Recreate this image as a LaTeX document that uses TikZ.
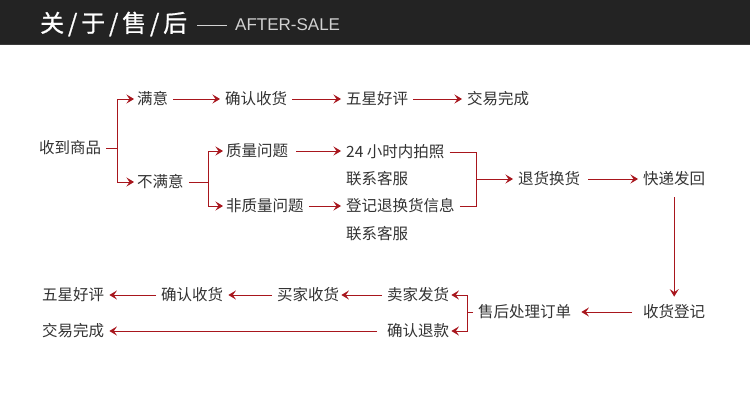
\documentclass[tikz,border=0pt]{standalone}
\usepackage{fontspec}
\setmainfont{Liberation Sans}
\newfontfamily\cjk{Noto Sans CJK SC}
\newfontfamily\cjktitle[FakeBold=0.8]{Noto Sans CJK SC}
\usetikzlibrary{arrows.meta}
\definecolor{txt}{HTML}{333333}
\definecolor{arr}{HTML}{A8161D}
\definecolor{hdr}{HTML}{232323}
\definecolor{hdrline}{HTML}{3A3A3A}
\definecolor{hdrtxt}{HTML}{D2D2D2}
\begin{document}
\begin{tikzpicture}[x=1pt,y=-1pt,
  lbl/.style={anchor=west,inner xsep=5pt,inner ysep=2pt,text=txt,font=\cjk\fontsize{15.5}{16}\selectfont},
  conn/.style={draw=arr,line width=1pt,-{Stealth[length=7.5pt,width=9pt,inset=3pt]}},
  seg/.style={draw=arr,line width=1pt}]
\useasboundingbox[fill=white] (0,0) rectangle (750,415);
% header
\fill[hdr] (0,0) rectangle (750,45);
\draw[hdrline,line width=1pt] (0,44.5) -- (750,44.5);
\node[anchor=west,inner sep=0,text=white,font=\cjktitle\fontsize{24}{24}\selectfont] (title) at (40,24)
  {关\kern3.8pt/\kern3.8pt于\kern3.8pt/\kern3.8pt售\kern3.8pt/\kern3.8pt后};
\coordinate (d1) at (197,25);
\coordinate (d2) at (227,25);
\draw[hdrtxt,line width=0.8pt] (d1) -- (d2);
\node[anchor=west,inner sep=0,text=hdrtxt,font=\fontsize{17}{17}\selectfont] (en) at (235,25) {AFTER-SALE};
% nodes
\node[lbl] (recv) at (34,148) {收到商品};
\node[lbl] (man) at (132,99) {满意};
\node[lbl] (buman) at (132,182) {不满意};
\node[lbl] (qr1) at (220,99) {确认收货};
\node[lbl] (wx1) at (341,99) {五星好评};
\node[lbl] (jy1) at (462,99) {交易完成};
\node[lbl] (zl) at (221,151) {质量问题};
\node[lbl] (fzl) at (221,206) {非质量问题};
\node[lbl] (pz) at (341,152) {24 小时内拍照};
\node[lbl] (kf1) at (341,179) {联系客服};
\node[lbl] (dj) at (341,206) {登记退换货信息};
\node[lbl] (kf2) at (341,234) {联系客服};
\node[lbl] (th) at (513,179) {退货换货};
\node[lbl] (kd) at (638,179) {快递发回};
\node[lbl] (sh) at (638,312) {收货登记};
\node[lbl] (cl) at (473,312) {售后处理订单};
\node[lbl] (mj) at (382,295) {卖家发货};
\node[lbl] (qk) at (382,331) {确认退款};
\node[lbl] (bj) at (272,295) {买家收货};
\node[lbl] (qr2) at (156,295) {确认收货};
\node[lbl] (wx2) at (37,295) {五星好评};
\node[lbl] (jy2) at (37,331) {交易完成};
% branch points
\coordinate (b1) at (117,148);
\coordinate (b2) at (208,182);
\coordinate (b3) at (476,179);
\coordinate (b4) at (467,312);
% connectors
\draw[seg] (recv.east) -- (b1);
\draw[conn,shorten >=-2pt] (b1) |- (man.west);
\draw[conn,shorten >=-2pt] (b1) |- (buman.west);
\draw[conn] (man) -- (qr1);
\draw[conn] (qr1) -- (wx1);
\draw[conn] (wx1) -- (jy1);
\draw[seg] (buman.east) -- (b2);
\draw[conn,shorten >=-2pt] (b2) |- (zl.west);
\draw[conn,shorten >=-2pt] (b2) |- (fzl.west);
\draw[conn,shorten <=3pt] (zl.east) -- (pz.west |- zl.east);
\draw[conn] (fzl.east) -- (dj.west |- fzl.east);
\draw[seg] (pz.east) -| (b3);
\draw[seg] (dj.east) -| (b3);
\draw[conn] (b3) -- (th.west);
\draw[conn,shorten <=3pt] (th) -- (kd);
\draw[conn,shorten <=9pt,shorten >=6pt] (kd.south) -- (sh.north);
\draw[conn,shorten <=6pt,shorten >=5pt] (sh) -- (cl);
\draw[seg] (cl.west) -- (b4);
\draw[conn,shorten >=-3pt] (b4) |- (mj.east);
\draw[conn,shorten >=-3pt] (b4) |- (qk.east);
\draw[conn,shorten >=-3pt] (mj) -- (bj);
\draw[conn] (bj) -- (qr2);
\draw[conn] (qr2) -- (wx2);
\draw[conn,shorten <=5pt] (qk) -- (jy2);
\end{tikzpicture}
\end{document}
